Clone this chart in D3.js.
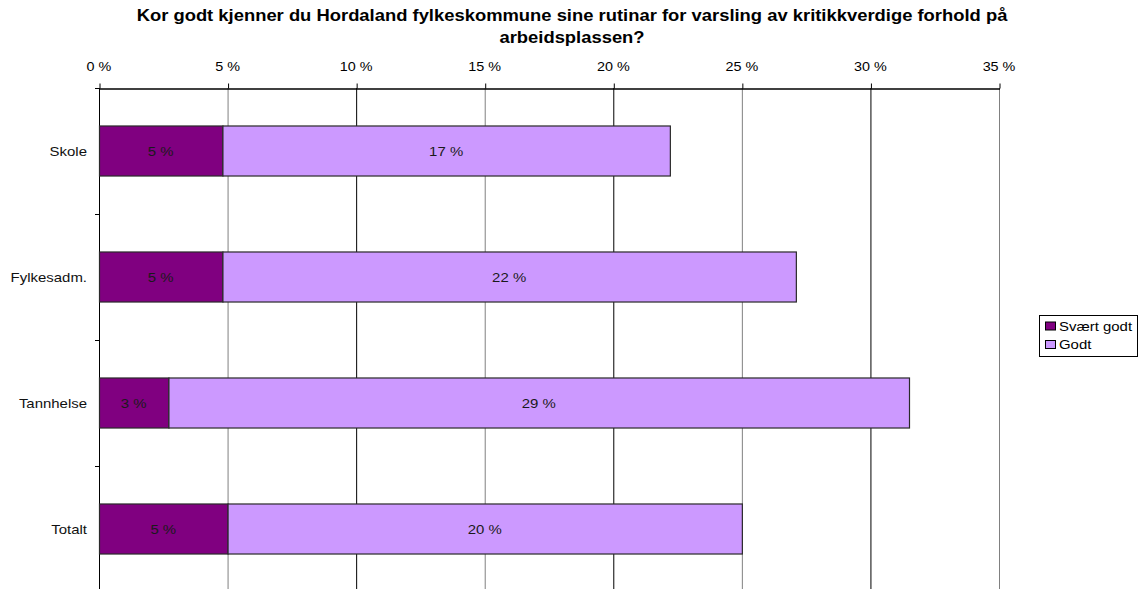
<!DOCTYPE html>
<html><head><meta charset="utf-8">
<script src="https://cdn.jsdelivr.net/npm/d3@7"></script>
<style>
body{margin:0;background:#fff;}
text{font-family:Arial,"Liberation Sans",sans-serif;}
</style></head>
<body>
<svg id="chart" width="1141" height="589"></svg>
<script>
const categories = ["Skole", "Fylkesadm.", "Tannhelse", "Totalt"];
const seriesNames = ["Svært godt", "Godt"];
const svaertGodt = [4.8, 4.8, 2.7, 5.0];
const godt = [17.4, 22.3, 28.8, 20.0];
const labelsSvaert = ["5 %", "5 %", "3 %", "5 %"];
const labelsGodt = ["17 %", "22 %", "29 %", "20 %"];
const xTicks = [0, 5, 10, 15, 20, 25, 30, 35];
const colors = ["#800080", "#CC99FF"];
const title = ["Kor godt kjenner du Hordaland fylkeskommune sine rutinar for varsling av kritikkverdige forhold på", "arbeidsplassen?"];

(function () {
const svg = d3.select("#chart");
const SX = 1.15; // horizontal stretch of the reference's text
const pLeft = 99, pRight = 999, pTop = 88, pBottom = 592;
const x = d3.scaleLinear().domain([0, 35]).range([pLeft, pRight]);
const yBand = d3.scaleBand().domain(categories).range([pTop, pBottom]).paddingInner(0).paddingOuter(0);
const barH = yBand.bandwidth() * 0.397;

function stext(parent, tx, ty, str, size, anchor, opts) {
  opts = opts || {};
  const t = parent.append("text")
    .attr("transform", `translate(${tx},${ty}) scale(${SX},1)`)
    .attr("text-anchor", anchor).attr("font-size", size).attr("fill", opts.fill || "#000")
    .text(str);
  if (opts.bold) t.attr("font-weight", "bold");
  if (opts.dy) t.attr("dy", opts.dy);
  return t;
}

// title
stext(svg, 572, 20.5, title[0], 16, "middle", { bold: true });
stext(svg, 572, 43, title[1], 16, "middle", { bold: true });

// gridlines
svg.append("g").selectAll("line").data(xTicks.slice(1)).join("line")
  .attr("x1", d => x(d) + 0.5).attr("x2", d => x(d) + 0.5)
  .attr("y1", pTop).attr("y2", 589)
  .attr("stroke", d => (d % 10 === 0) ? "#000" : "#808080").attr("stroke-width", 1);

// top axis (line + ticks via d3 axis, labels stretched)
const xAxis = d3.axisTop(x).tickValues(xTicks).tickFormat("").tickSize(5).tickSizeOuter(0);
const gx = svg.append("g").attr("transform", `translate(0.5,${pTop + 0.5})`).call(xAxis);
gx.select(".domain").attr("stroke", "#000").attr("stroke-width", 1.6);
gx.selectAll(".tick line").attr("stroke", "#000");
xTicks.forEach(v => stext(svg, x(v), 70.5, v + " %", 12.5, "middle"));

// left axis with ticks at band boundaries
const boundaries = d3.range(categories.length + 1).map(i => pTop + i * yBand.step());
svg.append("line").attr("x1", pLeft + 0.5).attr("x2", pLeft + 0.5).attr("y1", pTop).attr("y2", 589).attr("stroke", "#000");
svg.append("g").selectAll("line").data(boundaries).join("line")
  .attr("x1", pLeft - 4).attr("x2", pLeft).attr("y1", d => Math.round(d) + 0.5).attr("y2", d => Math.round(d) + 0.5)
  .attr("stroke", "#000");

// category labels
categories.forEach(c => stext(svg, 87, yBand(c) + yBand.bandwidth() / 2, c, 13, "end", { dy: "0.36em", fill: "#111" }));

// stacked bars
const rows = categories.map((c, i) => ({ cat: c, a: svaertGodt[i], b: godt[i] }));
const stack = d3.stack().keys(["a", "b"])(rows);
stack.forEach((layer, li) => {
  svg.append("g").selectAll("rect").data(layer).join("rect")
    .attr("x", d => x(d[0]) + 0.5)
    .attr("y", d => yBand(d.data.cat) + (yBand.bandwidth() - barH) / 2)
    .attr("width", d => x(d[1]) - x(d[0]))
    .attr("height", barH)
    .attr("fill", colors[li]).attr("stroke", "#2a2a2a").attr("stroke-width", 1.2);
});
// value labels
const lbls = [labelsSvaert, labelsGodt];
stack.forEach((layer, li) => {
  layer.forEach((d, i) => {
    stext(svg, (x(d[0]) + x(d[1])) / 2, yBand(d.data.cat) + yBand.bandwidth() / 2, lbls[li][i], 13, "middle",
      { dy: "0.36em", fill: "#1a1a1a" });
  });
});

// legend
const lg = svg.append("g").attr("transform", "translate(1039,315)");
lg.append("rect").attr("x", 0.5).attr("y", 0.5).attr("width", 98).attr("height", 41).attr("fill", "#fff").attr("stroke", "#000");
seriesNames.forEach((n, i) => {
  lg.append("rect").attr("x", 6.5).attr("y", 7 + i * 18.5).attr("width", 10).attr("height", 8)
    .attr("fill", colors[i]).attr("stroke", "#000");
  stext(lg, 20, 11 + i * 18.5, n, 13, "start", { dy: "0.36em" });
});
})();
</script>
</body></html>
